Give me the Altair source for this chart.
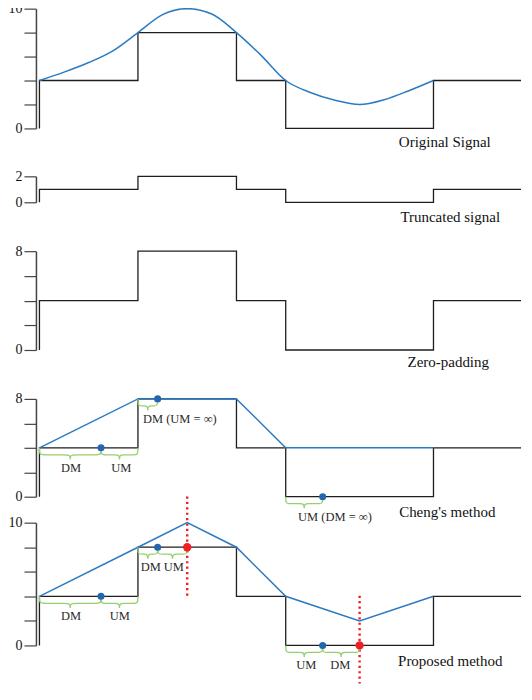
import altair as alt
import pandas as pd

# ---------------- data ----------------
STEP_T = [0, 0, 2, 4, 5, 8, 10]
STEP_ORIG = [0, 4, 8, 4, 0, 4, 4]
STEP_TRUNC = [0, 1, 2, 1, 0, 1, 1]
STEP_ZERO = [0, 4, 8, 4, 0, 4, 4]

ORIG_T = [0, 0.5, 1, 1.5, 2, 2.5, 3, 3.5, 4, 4.5, 5, 5.5, 6, 6.5, 7, 7.5, 8]
ORIG_V = [4, 4.7, 5.5, 6.5, 8, 9.5, 10, 9.55, 8, 6.1, 4, 3.0, 2.35, 2, 2.4, 3.15, 4]

CHENG_T = [0, 2, 4, 5, 8]
CHENG_V = [4, 8, 8, 4, 4]
PROP_T = [0, 2, 3, 4, 5, 6.5, 8]
PROP_V = [4, 8, 10, 8, 4, 2, 4]

CHENG_DOT_T = [1.25, 2.4, 5.75]
CHENG_DOT_V = [4, 8, 0]
PROP_BLUE_T = [1.25, 2.4, 5.75]
PROP_BLUE_V = [4, 8, 0]
PROP_RED_T = [3, 6.5]
PROP_RED_V = [8, 0]

CHENG_BR_A = [0, 1.25, 2, 5]
CHENG_BR_B = [1.25, 2, 2.4, 5.75]
CHENG_BR_V = [4, 4, 8, 0]
CHENG_LAB = ["DM", "UM", "DM (UM = \u221e)", "UM (DM = \u221e)"]
CHENG_LAB_T = [0.64, 1.66, 2.85, 6.0]
CHENG_LAB_V = [4, 4, 8, 0]

PROP_BR_A = [0, 1.25, 2, 2.4, 5, 5.75]
PROP_BR_B = [1.25, 2, 2.4, 3, 5.75, 6.5]
PROP_BR_V = [4, 4, 8, 8, 0, 0]
PROP_LAB = ["DM", "UM", "DM", "UM", "UM", "DM"]
PROP_LAB_T = [0.64, 1.63, 2.26, 2.73, 5.42, 6.11]
PROP_LAB_V = [4, 4, 8, 8, 0, 0]

RED_LINE_T = [3, 6.5]
RED_LINE_Y1 = [4.05, 4.05]
RED_LINE_Y2 = [12.2, -3.1]

TITLES = ["Original Signal", "Truncated signal", "Zero-padding", "Cheng's method", "Proposed method"]
TITLE_T = [8.23, 8.34, 8.30, 8.28, 8.34]
TITLE_V = [-1.14, -1.15, -0.97, -1.22, -1.27]

# ---------------- style ----------------
FONT = "Liberation Serif"
BLACK = "#1e1e1e"
BLUE = "#2b7bc2"
DOTBLUE = "#2266b0"
RED = "#ee2026"
GREEN = "#96d06e"
XW = 486
XMIN, XMAX = -0.071, 9.777
XS = alt.Scale(domain=[XMIN, XMAX], nice=False, zero=False, clamp=True)
PX_X = XW / (XMAX - XMIN)


def panel(idx, height, ymax, step_v, span=None, blue=None, blue_interp="linear",
          dots_blue=None, dots_red=None, braces=None, labels=None, red_lines=None):
    span = span or height
    px_y = span / ymax
    ys = alt.Scale(domain=[0, ymax], nice=False, zero=False, range=[span, 0])
    ticks = list(range(0, ymax + 1, 2 if ymax > 2 else 1))
    yaxis = alt.Axis(
        values=ticks, format="d",
        labelExpr=f"datum.value == 0 || datum.value == {ymax} ? datum.label : ''",
        title=None, grid=False, tickSize=12, tickColor="#444", tickWidth=1.2,
        domainColor="#444", domainWidth=1.5, labelFont=FONT, labelFontSize=14,
        labelColor="#111", labelPadding=2, minExtent=27, maxExtent=27,
    )
    X = alt.X("t:Q", scale=XS, axis=None)
    Y = alt.Y("v:Q", scale=ys, axis=yaxis)
    layers = []

    df = pd.DataFrame({"t": STEP_T, "v": step_v, "i": list(range(len(STEP_T)))})
    layers.append(alt.Chart(df).mark_line(interpolate="step-after", color=BLACK, strokeWidth=1.3)
                  .encode(x=X, y=Y, order="i:Q"))

    if red_lines is not None:
        t, y1, y2 = red_lines
        df = pd.DataFrame({"t": t, "v": y1, "v2": y2})
        layers.append(alt.Chart(df).mark_rule(color=RED, strokeWidth=2.4, strokeDash=[2.2, 3.2])
                      .encode(x=X, y=Y, y2="v2:Q"))

    if blue is not None:
        t, v = blue
        df = pd.DataFrame({"t": t, "v": v, "i": list(range(len(t)))})
        layers.append(alt.Chart(df).mark_line(interpolate=blue_interp, color=BLUE, strokeWidth=1.5)
                      .encode(x=X, y=Y, order="i:Q"))

    if braces is not None:
        a_l, b_l, v_l = braces
        r = 4 / PX_X
        h1 = 7 / px_y
        h2 = 14 / px_y
        rows = []
        for k, (a, b, v) in enumerate(zip(a_l, b_l, v_l)):
            m = (a + b) / 2
            pts = [(a, v), (a, v - h1), (a + r, v - h1), (m - r, v - h1), (m, v - h1),
                   (m, v - h2), (m, v - h1), (m + r, v - h1), (b - r, v - h1), (b, v - h1), (b, v)]
            for i, (pt, pv) in enumerate(pts):
                rows.append({"t": pt, "v": pv, "b": k, "i": i})
        df = pd.DataFrame(rows)
        layers.append(alt.Chart(df).mark_line(interpolate="basis", color=GREEN, strokeWidth=1.3)
                      .encode(x=X, y=Y, detail="b:N", order="i:Q"))

    if labels is not None:
        s, t, v = labels
        df = pd.DataFrame({"t": t, "v": v, "s": s})
        layers.append(alt.Chart(df).mark_text(font=FONT, fontSize=12.5, color="#2a2a2a", dy=20,
                                              align="center", baseline="middle")
                      .encode(x=X, y=Y, text="s:N"))

    if dots_blue is not None:
        t, v = dots_blue
        df = pd.DataFrame({"t": t, "v": v})
        layers.append(alt.Chart(df).mark_point(filled=True, shape="circle", size=50, color=DOTBLUE, opacity=1)
                      .encode(x=X, y=Y))

    if dots_red is not None:
        t, v = dots_red
        df = pd.DataFrame({"t": t, "v": v})
        layers.append(alt.Chart(df).mark_point(filled=True, shape="circle", size=70, color=RED, opacity=1)
                      .encode(x=X, y=Y))

    df = pd.DataFrame({"t": [TITLE_T[idx]], "v": [TITLE_V[idx]], "s": [TITLES[idx]]})
    layers.append(alt.Chart(df).mark_text(font=FONT, fontSize=15, color="#111",
                                          align="center", baseline="middle")
                  .encode(x=X, y=Y, text="s:N"))

    return alt.layer(*layers).properties(width=XW, height=height)


SPACING = 20
p1 = panel(0, 148, 10, STEP_ORIG, span=120, blue=(ORIG_T, ORIG_V), blue_interp="monotone")
p2 = panel(1, 55, 2, STEP_TRUNC, span=26)
p3 = panel(2, 128, 8, STEP_ZERO, span=99)
p4 = panel(3, 104, 8, STEP_ZERO, span=98, blue=(CHENG_T, CHENG_V),
           dots_blue=(CHENG_DOT_T, CHENG_DOT_V),
           braces=(CHENG_BR_A, CHENG_BR_B, CHENG_BR_V),
           labels=(CHENG_LAB, CHENG_LAB_T, CHENG_LAB_V))
p5 = panel(4, 123, 10, STEP_ZERO, blue=(PROP_T, PROP_V),
           dots_blue=(PROP_BLUE_T, PROP_BLUE_V), dots_red=(PROP_RED_T, PROP_RED_V),
           braces=(PROP_BR_A, PROP_BR_B, PROP_BR_V),
           labels=(PROP_LAB, PROP_LAB_T, PROP_LAB_V),
           red_lines=(RED_LINE_T, RED_LINE_Y1, RED_LINE_Y2))

chart = (
    alt.vconcat(p1, p2, p3, p4, p5, spacing=SPACING, bounds="flush")
    .properties(padding={"top": -7, "left": 0, "right": 0, "bottom": 0})
    .configure_view(strokeWidth=0)
)

chart.save("out.html", embed_options={"renderer": "svg", "actions": False})
